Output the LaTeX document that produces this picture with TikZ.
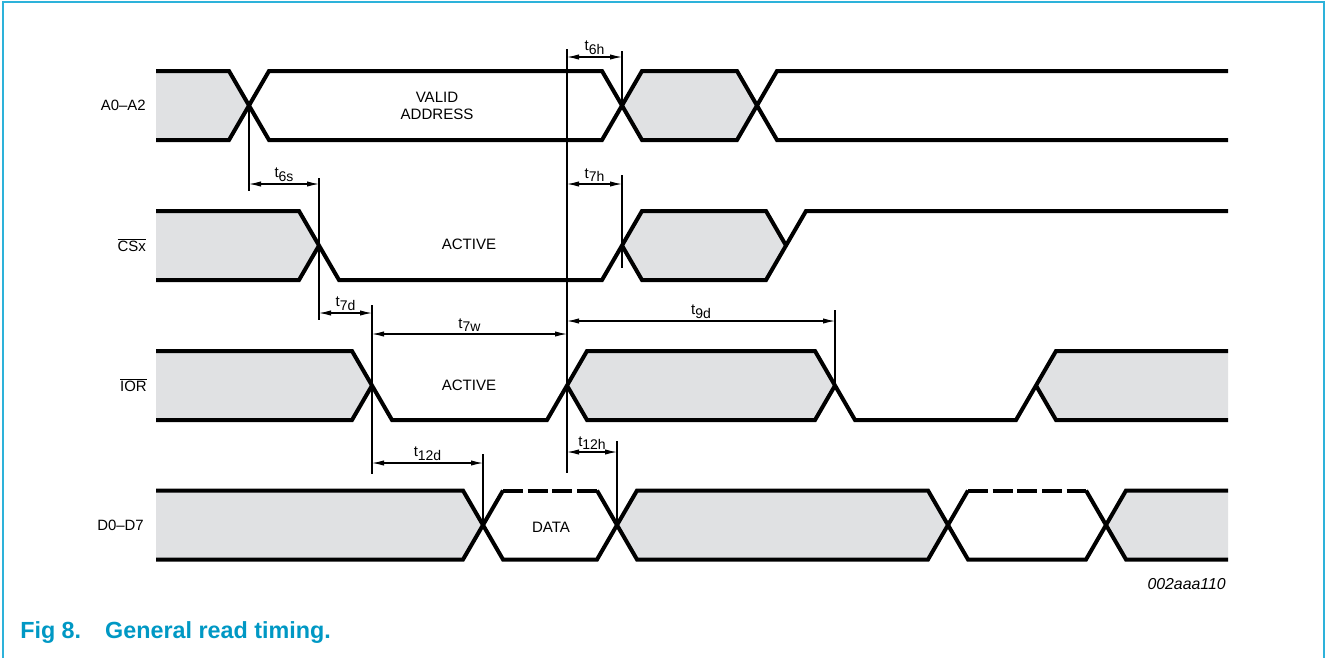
\documentclass[tikz,border=0pt]{standalone}
\usepackage{fontspec}
\setmainfont{Liberation Sans}
\usepackage{tikz}
\usetikzlibrary{arrows.meta}
\definecolor{busgrey}{RGB}{224,225,227}
\definecolor{framecyan}{RGB}{45,178,218}
\definecolor{captionblue}{RGB}{0,152,196}
\tikzstyle{wave} = [line width=3pt, draw=black]
\tikzstyle{bus} = [fill=busgrey, draw=none]
\tikzstyle{hiz} = [line width=3pt, draw=black, dash pattern=on 15pt off 3.5pt]
\tikzstyle{guide} = [line width=0.8pt, draw=black]
\tikzstyle{dim} = [line width=0.8pt, <->, >={Latex[length=9pt,width=4pt]}]
\tikzstyle{tlab} = [above, inner sep=1.5pt, font=\fontsize{11.2}{12}\selectfont]
\tikzstyle{sig} = [anchor=east, inner sep=0pt, font=\fontsize{11.2}{13}\selectfont]
\tikzstyle{state} = [align=center, font=\fontsize{11.3}{12.5}\selectfont]
\newcommand{\tsub}[1]{t\raisebox{-2.6pt}{\fontsize{10.5}{11}\selectfont #1}}

\begin{document}
\begin{tikzpicture}[x=0.75pt, y=-0.75pt]
  \useasboundingbox (0,0) rectangle (1326,658);
  \draw[framecyan, line width=1.5pt] (2.5,658) -- (2.5,2) -- (1323.5,2) -- (1323.5,658);

  % crossing points
  \coordinate (a1) at (249,105.5);
  \coordinate (a2) at (622,105.5);
  \coordinate (c1) at (319,245.5);
  \coordinate (c2) at (622,245.5);
  \coordinate (r1) at (372,385.5);
  \coordinate (r2) at (567,385.5);
  \coordinate (r3) at (835,385.5);
  \coordinate (d1) at (483,525);
  \coordinate (d2) at (617,525);

  % A0-A2
  \fill[bus] (156,71) -- (229,71) -- (a1) -- (229,140) -- (156,140) -- cycle;
  \fill[bus] (a2) -- (642,71) -- (737,71) -- (757,105.5) -- (737,140) -- (642,140) -- cycle;
  \draw[wave] (156,71) -- (229,71) -- (269,140) -- (602,140) -- (642,71) -- (737,71) -- (777,140) -- (1228,140);
  \draw[wave] (156,140) -- (229,140) -- (269,71) -- (602,71) -- (642,140) -- (737,140) -- (777,71) -- (1228,71);

  % CSx
  \fill[bus] (156,211) -- (299,211) -- (c1) -- (299,280) -- (156,280) -- cycle;
  \fill[bus] (c2) -- (642,211) -- (766,211) -- (786,245.5) -- (766,280) -- (642,280) -- cycle;
  \draw[wave] (156,211) -- (299,211) -- (339,280) -- (602,280) -- (642,211) -- (766,211) -- (786,245.5);
  \draw[wave] (156,280) -- (299,280) -- (c1);
  \draw[wave] (c2) -- (642,280) -- (766,280) -- (806,211) -- (1228,211);

  % IOR
  \fill[bus] (156,351) -- (352,351) -- (r1) -- (352,420) -- (156,420) -- cycle;
  \fill[bus] (r2) -- (587,351) -- (815,351) -- (r3) -- (815,420) -- (587,420) -- cycle;
  \fill[bus] (1036,385.5) -- (1056,351) -- (1228,351) -- (1228,420) -- (1056,420) -- cycle;
  \draw[wave] (156,351) -- (352,351) -- (392,420) -- (547,420) -- (587,351) -- (815,351) -- (855,420) -- (1016,420) -- (1056,351) -- (1228,351);
  \draw[wave] (156,420) -- (352,420) -- (r1);
  \draw[wave] (r2) -- (587,420) -- (815,420) -- (r3);
  \draw[wave] (1036,385.5) -- (1056,420) -- (1228,420);

  % D0-D7
  \fill[bus] (156,490.5) -- (463,490.5) -- (d1) -- (463,559.5) -- (156,559.5) -- cycle;
  \fill[bus] (d2) -- (637,490.5) -- (928,490.5) -- (948,525) -- (928,559.5) -- (637,559.5) -- cycle;
  \fill[bus] (1106,525) -- (1126,490.5) -- (1228,490.5) -- (1228,559.5) -- (1126,559.5) -- cycle;
  \draw[wave] (156,490.5) -- (463,490.5) -- (503,559.5) -- (597,559.5) -- (637,490.5) -- (928,490.5) -- (968,559.5) -- (1086,559.5) -- (1126,490.5) -- (1228,490.5);
  \draw[wave] (156,559.5) -- (463,559.5) -- (503,490.5);
  \draw[wave] (597,490.5) -- (637,559.5) -- (928,559.5) -- (968,490.5);
  \draw[wave] (1086,490.5) -- (1126,559.5) -- (1228,559.5);
  \draw[hiz] (503,490.5) -- (597,490.5);
  \draw[hiz] (968,490.5) -- (1086,490.5);

  % signal names and states
  \node(sigA)[sig] at (146,105.5) {A0--A2};
  \node(sigC)[sig] at (146,245.5) {$\overline{\mbox{CSx}}$};
  \node(sigR)[sig] at (147,385.5) {$\overline{\mbox{IOR}}$};
  \node(sigD)[sig] at (144,525) {D0--D7};
  \node(valid)[state] at (437,106) {VALID\\ADDRESS};
  \node(actC)[state] at (469,244) {ACTIVE};
  \node(actR)[state] at (469,385) {ACTIVE};
  \node(data)[state] at (551,527) {DATA};

  % guide lines
  \draw[guide] (r2 |- 0,49) -- (r2 |- 0,473);
  \draw[guide] (a2 |- 0,51) -- (a2);
  \draw[guide] (a1) -- (a1 |- 0,191);
  \draw[guide] (c1 |- 0,178) -- (c1 |- 0,320);
  \draw[guide] (c2 |- 0,175) -- (c2 |- 0,268);
  \draw[guide] (r1 |- 0,305) -- (r1 |- 0,474);
  \draw[guide] (r3 |- 0,310) -- (r3);
  \draw[guide] (d1 |- 0,454) -- (d1);
  \draw[guide] (d2 |- 0,441) -- (d2);

  % timing arrows
  \draw[dim] (r2 |- 0,57) -- node[tlab]{\tsub{6h}} (a2 |- 0,57);
  \draw[dim] (a1 |- 0,184) -- node[tlab]{\tsub{6s}} (c1 |- 0,184);
  \draw[dim] (r2 |- 0,184) -- node[tlab]{\tsub{7h}} (c2 |- 0,184);
  \draw[dim] (c1 |- 0,313) -- node[tlab]{\tsub{7d}} (r1 |- 0,313);
  \draw[dim] (r1 |- 0,334) -- node[tlab]{\tsub{7w}} (r2 |- 0,334);
  \draw[dim] (r2 |- 0,321) -- node[tlab]{\tsub{9d}} (r3 |- 0,321);
  \draw[dim] (r1 |- 0,463) -- node[tlab]{\tsub{12d}} (d1 |- 0,463);
  \draw[dim] (r2 |- 0,452) -- node[tlab]{\tsub{12h}} (d2 |- 0,452);

  \node(code)[anchor=east, inner sep=0pt, font=\fontsize{11.9}{13}\selectfont\itshape] at (1226,584) {002aaa110};
  \node(caption)[anchor=west, inner sep=0pt, text=captionblue, font=\fontsize{17.5}{19}\selectfont\bfseries] at (20,633) {Fig 8.\hspace{18pt}General read timing.};
\end{tikzpicture}
\end{document}
